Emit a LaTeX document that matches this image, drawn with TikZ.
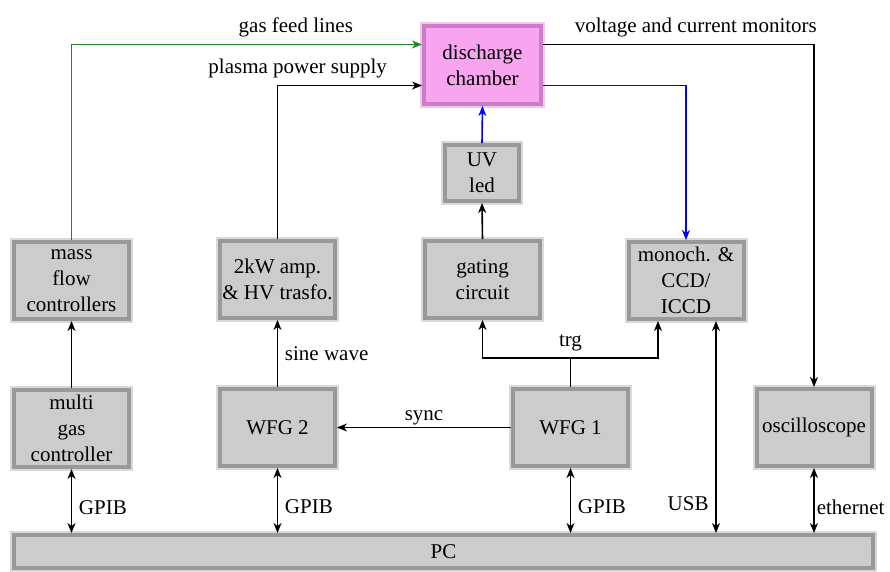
\documentclass[tikz,border=0pt]{standalone}
\usepackage{fontspec}
\setmainfont{Liberation Serif}
\usetikzlibrary{arrows.meta}
\definecolor{chamberpink}{RGB}{248,164,238}
\definecolor{chamberedge}{RGB}{205,125,200}
\definecolor{gasgreen}{RGB}{30,135,30}

\begin{document}
\begin{tikzpicture}[x=0.5pt, y=-0.5pt, >={Stealth[length=5pt, width=4pt, inset=1.5pt]}, line width=0.8pt,
   font=\fontsize{10.5}{13}\selectfont,
   box/.style={draw=black!40, line width=2pt, fill=black!20,
      preaction={draw=black!15, line width=4pt},
      minimum width=57.5pt, minimum height=38.5pt, inner sep=1pt, align=center},
   chamber/.style={box, draw=chamberedge, fill=chamberpink,
      preaction={draw=chamberedge!40, line width=4pt},
      minimum width=58.5pt, minimum height=39pt}]
   \useasboundingbox (0,0) rectangle (890,572);

   % devices
   \node[chamber] (dc) at (482.5,65) {discharge\\chamber};
   \node[box, minimum width=37pt, minimum height=28pt] (uv) at (482,173) {UV\\led};
   \node[box] (mfc) at (71.5,280.5) {mass\\flow\\controllers};
   \node[box] (amp) at (277.5,279.5) {2kW amp.\\\& HV trasfo.};
   \node[box] (gate) at (482.5,279.5) {gating\\circuit};
   \node[box] (mono) at (686,280.5) {monoch. \&\\CCD/\\ICCD};
   \node[box] (mgc) at (71.5,428.5) {multi\\gas\\controller};
   \node[box] (wfg2) at (277.5,427.5) {WFG 2};
   \node[box] (wfg1) at (570.5,427.5) {WFG 1};
   \node[box] (osc) at (814,427.5) {oscilloscope};
   \node[box, minimum width=429.5pt, minimum height=16.5pt] (pc) at (443.5,551.5) {PC};

   % chamber feeds and monitors
   \draw[->, gasgreen] (mfc.north) |- ([yshift=10.25pt]dc.west) node[pos=0.82,above,text=black] {gas feed lines};
   \draw[->] (amp.north) |- ([yshift=-10.25pt]dc.west) node[pos=0.57,above] {plasma power supply};
   \draw[->] ([yshift=10.25pt]dc.east) -| (osc.north) node[pos=0.282,above] {voltage and current monitors};
   \draw[->, blue] ([yshift=-10.25pt]dc.east) -| (mono.north);
   \draw[->, blue] (uv.north) -- (dc.south);
   \draw[->] (gate.north) -- (uv.south);

   % triggering
   \draw (wfg1.north) -- ++(0,-29) coordinate (j) node[above] {trg};
   \draw[->] (j) -| (gate.south);
   \draw[->] (j) -| ([xshift=-14pt]mono.south);
   \draw[->] (wfg1.west) -- (wfg2.east) node[midway,above,inner sep=1pt] {sync};
   \draw[->] (wfg2.north) -- (amp.south) node[midway,right] {sine wave};
   \draw[->] (mgc.north) -- (mfc.south);

   % PC links
   \draw[<->] (mgc.south) -- (mgc.south |- pc.north) node[pos=0.6,right] {GPIB};
   \draw[<->] (wfg2.south) -- (wfg2.south |- pc.north) node[pos=0.6,right] {GPIB};
   \draw[<->] (wfg1.south) -- (wfg1.south |- pc.north) node[pos=0.6,right] {GPIB};
   \draw[<->] ([xshift=15pt]mono.south) -- ([xshift=15pt]mono.south |- pc.north) node[pos=0.86,left] {USB};
   \draw[<->] (osc.south) -- (osc.south |- pc.north) node[pos=0.6,right,inner sep=1pt] {ethernet};
\end{tikzpicture}
\end{document}
